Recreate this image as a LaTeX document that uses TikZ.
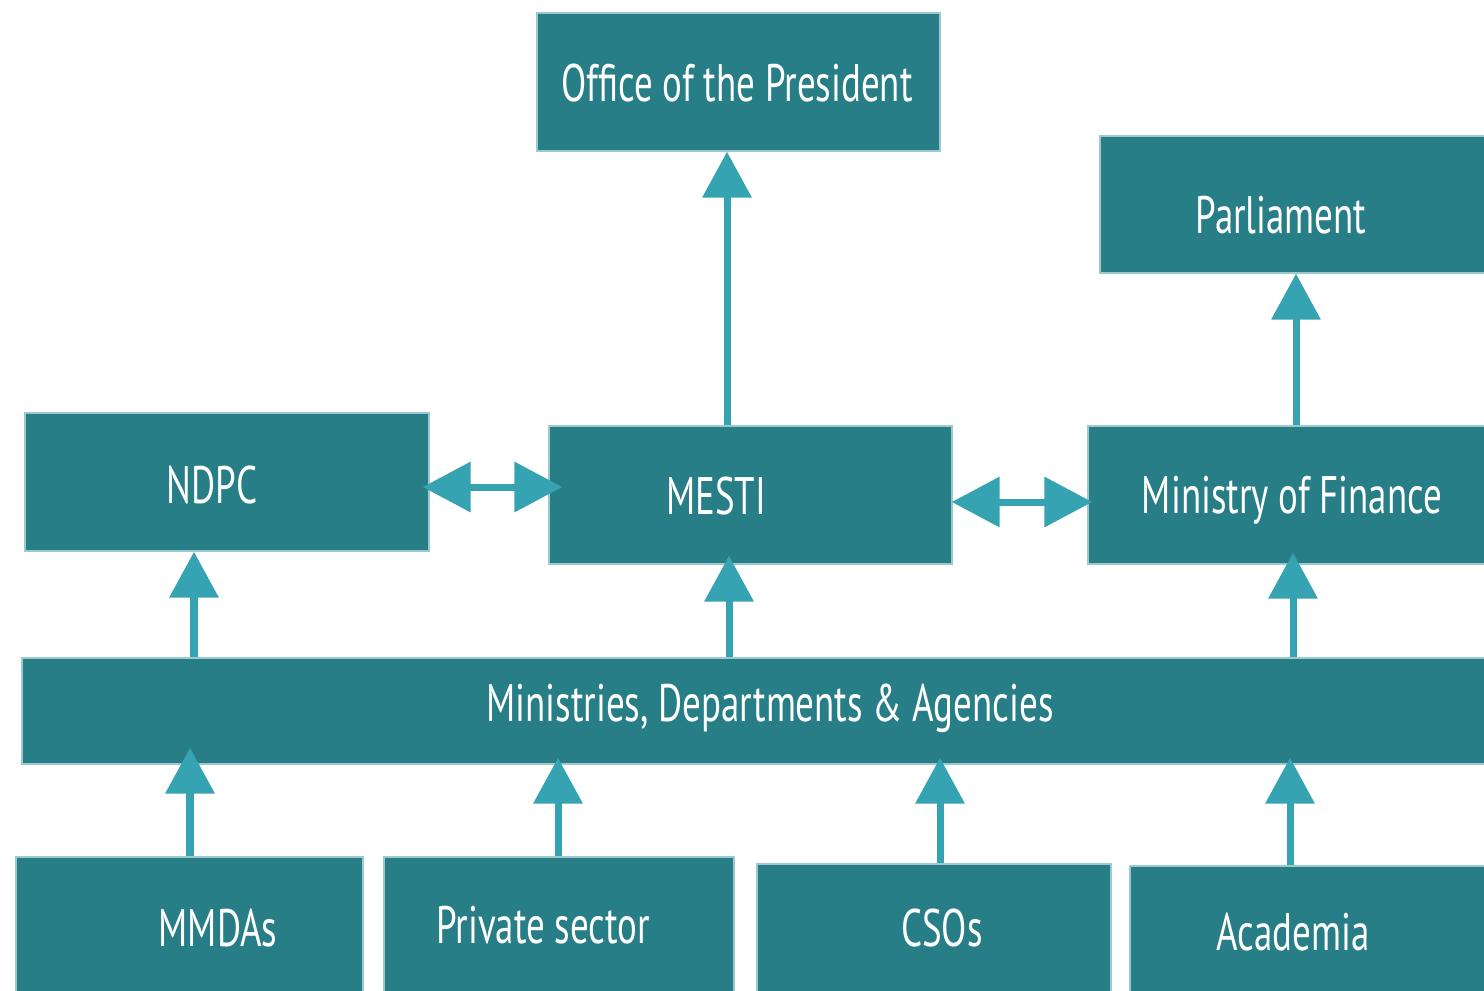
\documentclass[tikz,border=0pt]{standalone}
\usepackage{fontspec}
\setmainfont{PT Sans}[FakeStretch=0.70]
\usetikzlibrary{arrows.meta, fit}
\definecolor{boxteal}{HTML}{277E86}
\definecolor{arrowteal}{HTML}{35A3B1}
\definecolor{boxedge}{HTML}{9CC9CD}
\tikzset{
  orgbox/.style={
    draw=boxedge, line width=0.4pt, fill=boxteal, inner sep=0pt
  },
  orglabel/.style={
    text=white, font=\fontsize{15pt}{18pt}\selectfont, inner sep=0pt
  },
  flow/.style={
    -{Triangle[length=0.46cm, width=0.48cm]}, line width=0.07cm, draw=arrowteal
  },
  flowboth/.style={
    {Triangle[length=0.48cm, width=0.49cm]}-{Triangle[length=0.48cm, width=0.49cm]},
    line width=0.07cm, draw=arrowteal
  },
}

\begin{document}
\begin{tikzpicture}[x=0.01cm, y=-0.01cm]
  \useasboundingbox (0,0) rectangle (1484,990);
  \clip (0,0) rectangle (1484,990);

  % Top level
  \node[orgbox, fit={(537,13) (940,151)}] (pres) {};
  \node[orglabel] (pres-t) at (737,83) {Office of the President};
  \node[orgbox, fit={(1100,136) (1520,273)}] (parl) {};
  \node[orglabel] (parl-t) at (1281,215) {Parliament};

  % Middle row
  \node[orgbox, fit={(25,413) (429,551)}] (ndpc) {};
  \node[orglabel] (ndpc-t) at (212,485) {NDPC};
  \node[orgbox, fit={(549,426) (952,564)}] (mesti) {};
  \node[orglabel] (mesti-t) at (716,496) {MESTI};
  \node[orgbox, fit={(1088,426) (1520,564)}] (mof) {};
  \node[orglabel] (mof-t) at (1292,500) {Ministry of Finance};

  % MDA band
  \node[orgbox, fit={(22,658) (1520,764)}] (mda) {};
  \node[orglabel] (mda-t) at (770,708) {Ministries, Departments \& Agencies};

  % Bottom row
  \node[orgbox, fit={(16,857) (363,1010)}] (mmdas) {};
  \node[orglabel] (mmdas-t) at (218,928) {MMDAs};
  \node[orgbox, fit={(384,857) (734,1010)}] (priv) {};
  \node[orglabel] (priv-t) at (543,925) {Private sector};
  \node[orgbox, fit={(757,864) (1111,1010)}] (csos) {};
  \node[orglabel] (csos-t) at (942,928) {CSOs};
  \node[orgbox, fit={(1130,866) (1520,1010)}] (acad) {};
  \node[orglabel] (acad-t) at (1293,932) {Academia};

  % Reporting lines
  \draw[flow] (mesti.north -| 727,0) -- (pres.south -| 727,0);
  \draw[flow] (mof.north -| 1296,0) -- (parl.south -| 1296,0);
  \draw[flow] (mda.north -| 194,0) -- (ndpc.south -| 194,0);
  \draw[flow, shorten >=-0.09cm] (mda.north -| 729,0) -- (mesti.south -| 729,0);
  \draw[flow, shorten >=-0.12cm] (mda.north -| 1293,0) -- (mof.south -| 1293,0);
  \draw[flow, shorten >=-0.17cm] (mmdas.north -| 190,0) -- (mda.south -| 190,0);
  \draw[flow, shorten >=-0.07cm] (priv.north -| 558,0) -- (mda.south -| 558,0);
  \draw[flow, shorten >=-0.07cm] (csos.north -| 940,0) -- (mda.south -| 940,0);
  \draw[flow, shorten >=-0.07cm] (acad.north -| 1290,0) -- (mda.south -| 1290,0);

  % Two-way links
  \draw[flowboth, shorten <=-0.07cm, shorten >=-0.14cm]
    (ndpc.east |- 0,487) -- (mesti.west |- 0,487);
  \draw[flowboth, shorten <=-0.01cm, shorten >=-0.05cm]
    (mesti.east |- 0,502) -- (mof.west |- 0,502);
\end{tikzpicture}
\end{document}
